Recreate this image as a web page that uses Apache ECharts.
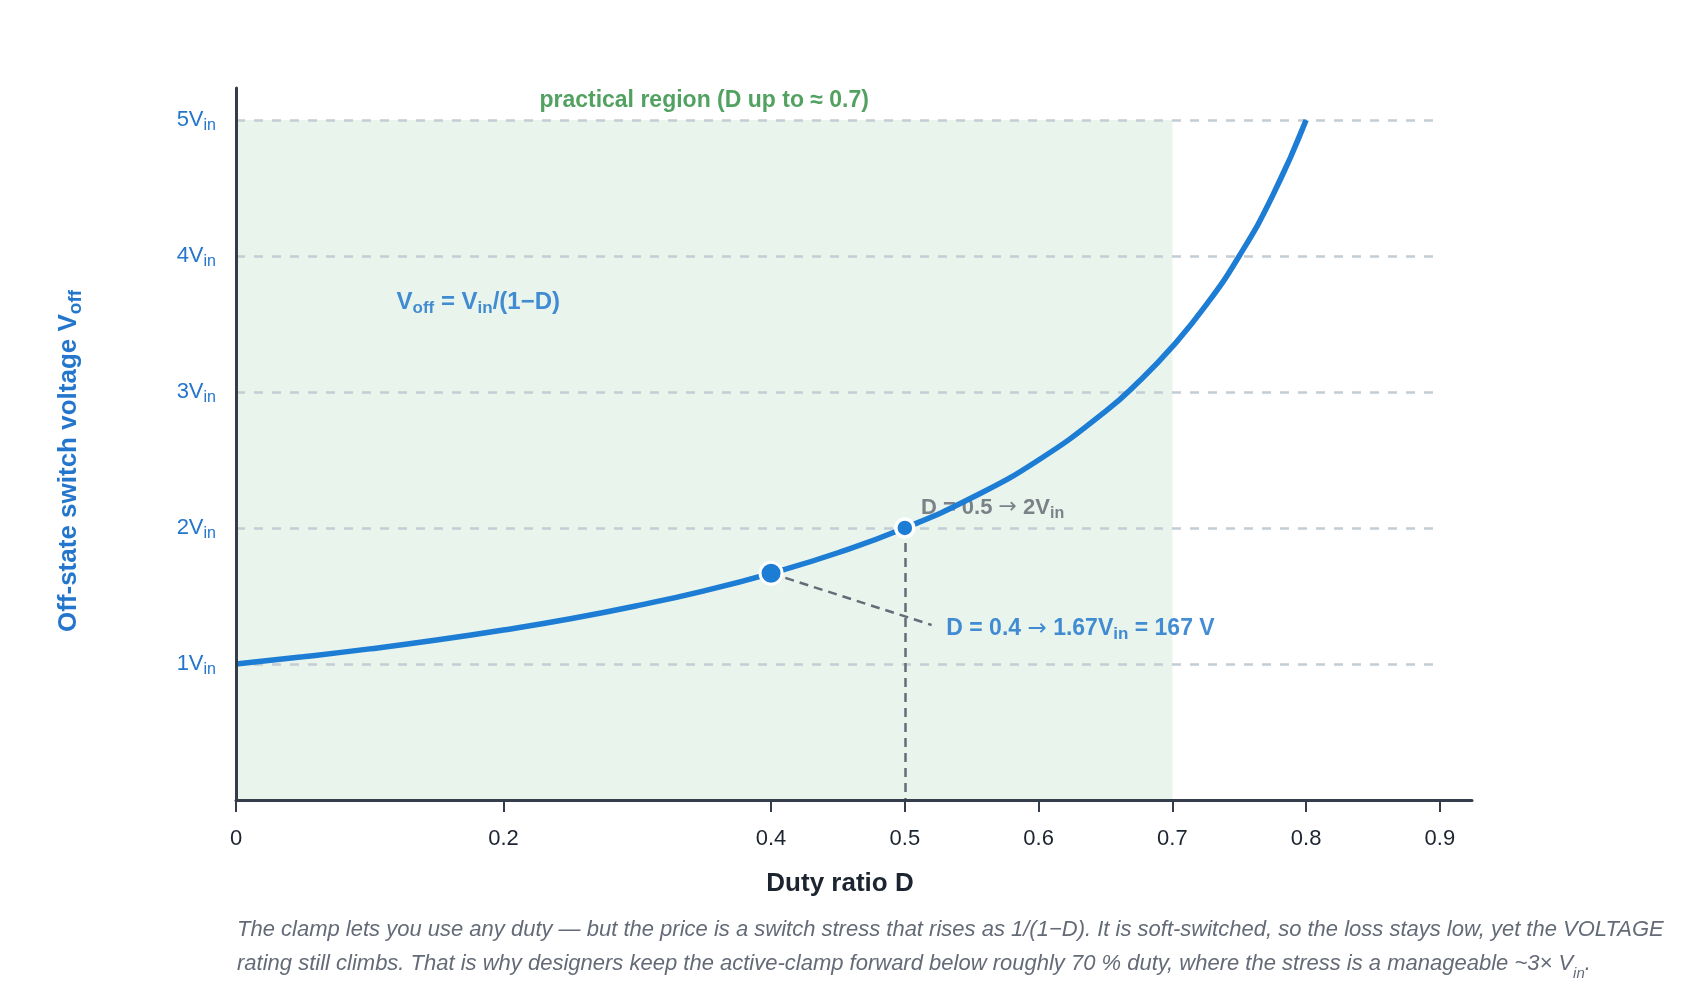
<!DOCTYPE html>
<html>
<head>
<meta charset="utf-8">
<title>Active-clamp switch stress</title>
<script src="https://cdn.jsdelivr.net/npm/echarts@6.0.0/dist/echarts.min.js"></script>
<style>
  html, body { margin: 0; padding: 0; background: #fff; }
  #chart { width: 1700px; height: 1000px; }
</style>
</head>
<body>
<div id="chart"></div>
<script>
// values
var dutyD = [0, 0.05, 0.1, 0.15, 0.2, 0.25, 0.3, 0.35, 0.4, 0.45, 0.5, 0.55, 0.6, 0.65, 0.675, 0.7, 0.725, 0.75, 0.775, 0.8];
var vOff  = [1.000, 1.053, 1.111, 1.176, 1.250, 1.333, 1.429, 1.538, 1.667, 1.818, 2.000, 2.222, 2.500, 2.857, 3.077, 3.333, 3.636, 4.000, 4.444, 5.000];

var markD = [0.4, 0.5];
var markV = [1.667, 2.0];

var xTicks = [0, 0.2, 0.4, 0.5, 0.6, 0.7, 0.8, 0.9];
var yTicks = [1, 2, 3, 4, 5];
var gridLevels = [1, 2, 3, 4, 5];

var practicalD = 0.7;
var practicalTop = 5;

var FONT = '"Liberation Sans", Arial, sans-serif';
var BLUE = '#1d7dd5';
var TEXT_BLUE = '#1571cb';
var LABEL_BLUE = '#2476cc';
var GREEN = '#25893a';
var AXIS = '#333d4b';
var GREY = '#656c78';

// main text + subscript + arrow styles
function sub(color, size, bold, lh, subSize, subLh) {
  var w = bold ? 'bold' : 'normal';
  return {
    m: { color: color, fill: color, fontSize: size, fontWeight: w, fontFamily: FONT, lineHeight: lh },
    s: { color: color, fill: color, fontSize: subSize, fontWeight: w, fontFamily: FONT, lineHeight: subLh, verticalAlign: 'bottom' },
    a: { color: color, fill: color, fontSize: size, fontWeight: 'normal', fontFamily: '"DejaVu Sans", sans-serif', lineHeight: lh }
  };
}

var chart = echarts.init(document.getElementById('chart'), null, { renderer: 'canvas' });

var option = {
  backgroundColor: '#ffffff',
  animation: false,
  grid: { left: 236, right: 228, top: 88, bottom: 200 },
  xAxis: {
    type: 'value',
    z: 10,
    min: 0,
    max: 0.924,
    axisLine: { show: true, onZero: false, lineStyle: { color: AXIS, width: 3 } },
    axisTick: { show: true, length: 12, customValues: xTicks, lineStyle: { color: AXIS, width: 2 } },
    axisLabel: { customValues: xTicks, margin: 28, color: '#1c2430', fontSize: 22, fontFamily: FONT },
    splitLine: { show: false }
  },
  yAxis: {
    type: 'value',
    z: 10,
    min: 0,
    max: 5.235,
    axisLine: { show: true, onZero: false, lineStyle: { color: AXIS, width: 3 } },
    axisTick: { show: false },
    axisLabel: {
      customValues: yTicks,
      margin: 20,
      formatter: function (v) { return '{m|' + v + 'V}{s|in}'; },
      rich: sub(LABEL_BLUE, 22, false, 28, 16, 13)
    },
    splitLine: { show: false }
  },
  graphic: [
    {
      type: 'text', x: 69, y: 461, rotation: Math.PI / 2,
      style: {
        text: '{m|Off-state switch voltage V}{s|off}',
        align: 'center', verticalAlign: 'middle',
        rich: sub(LABEL_BLUE, 26, true, 32, 19, 20)
      }
    },
    {
      type: 'text', x: 840, y: 884,
      style: {
        text: 'Duty ratio D', align: 'center', verticalAlign: 'middle',
        fill: '#1c2430', fontSize: 26, fontWeight: 'bold', fontFamily: FONT
      }
    },
    {
      type: 'text', x: 237, y: 913,
      style: {
        text: '{t|The clamp lets you use any duty \u2014 but the price is a switch stress that rises as 1/(1\u2212D). It is soft-switched, so the loss stays low, yet the VOLTAGE}\n' +
              '{t|rating still climbs. That is why designers keep the active-clamp forward below roughly 70 % duty, where the stress is a manageable ~3\u00d7 V}{s|in}{t|.}',
        align: 'left', verticalAlign: 'top',
        rich: {
          t: { fill: '#646b77', fontSize: 22, fontStyle: 'italic', fontFamily: FONT, lineHeight: 34 },
          s: { fill: '#646b77', fontSize: 15, fontStyle: 'italic', fontFamily: FONT, lineHeight: 22, verticalAlign: 'bottom' }
        }
      }
    }
  ],
  series: [
    {
      // label that sits under the curve
      type: 'scatter', z: 3, silent: true, symbolSize: 0,
      data: [{
        value: [0.512, 2.15],
        label: {
          show: true, position: 'right', distance: 0,
          formatter: '{m|D = 0.5 }{a|\u2192}{m| 2V}{s|in}',
          rich: sub('#5f656e', 22, true, 28, 16, 16)
        }
      }]
    },
    {
      name: 'Voff', type: 'line', z: 4, silent: true,
      data: dutyD.map(function (d, i) { return [d, vOff[i]]; }),
      showSymbol: false, smooth: 0.5,
      lineStyle: { color: BLUE, width: 5.5 },
      markArea: {
        z: 1, silent: true,
        itemStyle: { color: '#e8f4ec' },
        data: [[{ coord: [0, 0] }, { coord: [practicalD, practicalTop] }]]
      },
      markLine: {
        z: 2, silent: true, symbol: 'none',
        label: { show: false },
        lineStyle: { color: '#c2cdd4', width: 2.5, type: [9, 9] },
        data: gridLevels.map(function (v) { return [{ coord: [0, v] }, { coord: [0.895, v] }]; })
      }
    },
    {
      type: 'scatter', z: 6, silent: true,
      data: markD.map(function (d, i) {
        return {
          value: [d, markV[i]],
          symbolSize: i === 0 ? 22 : 18,
          itemStyle: { color: BLUE, opacity: 1, borderColor: '#ffffff', borderWidth: i === 0 ? 3 : 3.5 }
        };
      }),
      markLine: {
        z: 5, silent: true, symbol: 'none',
        label: { show: false },
        lineStyle: { color: GREY, width: 2.5, type: [9, 6] },
        data: [
          [{ coord: [markD[1], markV[1]] }, { coord: [markD[1], 0] }],
          [{ coord: [markD[0], markV[0]] }, { coord: [0.52, 1.287] }]
        ]
      }
    },
    {
      type: 'scatter', z: 7, silent: true, symbolSize: 0,
      data: [
        {
          value: [0.35, 5.145],
          label: {
            show: true, position: 'inside',
            formatter: 'practical region (D up to \u2248 0.7)',
            color: GREEN, fontSize: 23, fontWeight: 'bold', fontFamily: FONT
          }
        },
        {
          value: [0.12, 3.66],
          label: {
            show: true, position: 'right', distance: 0,
            formatter: '{m|V}{s|off}{m| = V}{s|in}{m|/(1\u2212D)}',
            rich: sub(TEXT_BLUE, 24, true, 30, 17, 18)
          }
        },
        {
          value: [0.531, 1.257],
          label: {
            show: true, position: 'right', distance: 0,
            formatter: '{m|D = 0.4 }{a|\u2192}{m| 1.67V}{s|in}{m| = 167 V}',
            rich: sub(TEXT_BLUE, 23, true, 28, 17, 14)
          }
        }
      ]
    }
  ]
};

chart.setOption(option);
</script>
</body>
</html>
